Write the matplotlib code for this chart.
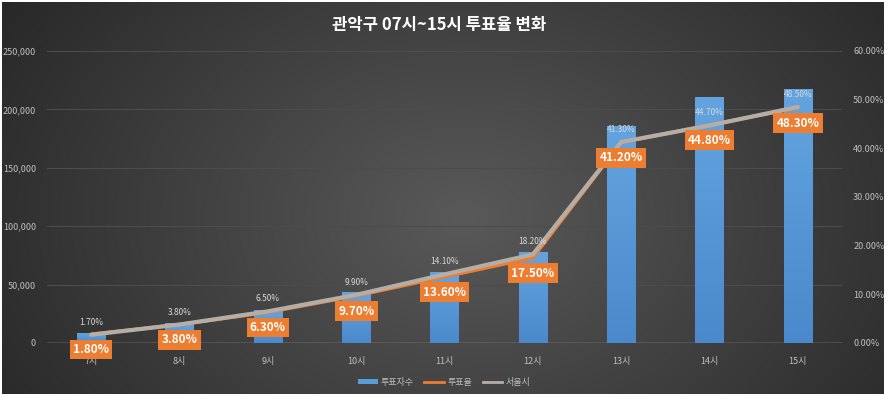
import numpy as np
import matplotlib.pyplot as plt
from matplotlib.patches import Patch
from matplotlib.lines import Line2D
from matplotlib.colors import LinearSegmentedColormap

plt.rcParams['font.family'] = ['Noto Sans CJK KR', 'DejaVu Sans']

# -----------------------------
# DATA
# -----------------------------
hours = ["7시", "8시", "9시", "10시", "11시", "12시", "13시", "14시", "15시"]
voters = [8600, 17000, 28000, 43500, 61000, 78000, 185800, 210500, 217500]
rate_gwanak = [1.8, 3.8, 6.3, 9.7, 13.6, 17.5, 41.2, 44.8, 48.3]
rate_seoul = [1.7, 3.8, 6.5, 9.9, 14.1, 18.2, 41.3, 44.7, 48.5]

title = "관악구 07시~15시 투표율 변화"

# -----------------------------
# STYLE
# -----------------------------
blue = "#5b9bd5"
orange = "#ed7d31"
grey_line = "#b5aea6"
tick_col = "#bfbfbf"

W, H = 888, 398
fig = plt.figure(figsize=(W / 100, H / 100), dpi=100, facecolor="white")

# dark radial background
bg = fig.add_axes([2 / W, 4 / H, 882 / W, 392 / H])
yy, xx = np.mgrid[0:200, 0:450]
r = np.sqrt(((xx - 235) / 260.0) ** 2 + ((yy - 110) / 190.0) ** 2)
val = np.clip(0.35 - 0.18 * r, 0.16, 0.35)
bg.imshow(np.dstack([val, val, val]), aspect="auto", extent=[0, 1, 0, 1], interpolation="bilinear")
bg.set_axis_off()

ax = fig.add_axes([47 / W, 1 - 343 / H, 795 / W, 292 / H])
ax.set_facecolor("none")
x = np.arange(len(hours))

bars = ax.bar(x, voters, width=0.32, color=blue, zorder=2)
# vertical gradient inside each bar
grad = np.linspace(0, 1, 100).reshape(-1, 1)
bar_cmap = LinearSegmentedColormap.from_list("bar", ["#4a89cb", "#63a4e0"])
for b in bars:
    x0, y0 = b.get_x(), b.get_y()
    im = ax.imshow(grad, cmap=bar_cmap, aspect="auto",
                   extent=[x0, x0 + b.get_width(), y0, y0 + b.get_height()],
                   origin="lower", zorder=2.1)
    im.set_clip_path(b)

ax.set_xlim(-0.5, len(hours) - 0.5)
ax.set_ylim(0, 250000)
ax.set_yticks(np.arange(0, 250001, 50000))
ax.set_yticklabels([f"{v:,}" for v in range(0, 250001, 50000)])
ax.set_xticks(x)
ax.set_xticklabels(hours)
ax.grid(axis="y", color="#4c4c4c", lw=0.8, zorder=0)
ax.set_axisbelow(True)
for s in ax.spines.values():
    s.set_visible(False)
ax.axhline(0, color="#a6a6a6", lw=1, zorder=1)
ax.tick_params(length=0, colors=tick_col, labelsize=6.5, pad=10)
ax.tick_params(axis="y", pad=8)

ax2 = ax.twinx()
ax2.set_ylim(0, 60)
ax2.set_yticks(np.arange(0, 61, 10))
ax2.set_yticklabels([f"{v:.2f}%" for v in range(0, 61, 10)])
for s in ax2.spines.values():
    s.set_visible(False)
ax2.tick_params(length=0, colors=tick_col, labelsize=6.5, pad=8)

ax2.plot(x, rate_gwanak, color=orange, lw=2.5, zorder=3, solid_capstyle="round")
ax2.plot(x, rate_seoul, color=grey_line, lw=3, zorder=4, solid_capstyle="round")

for xi, v in zip(x, rate_seoul):
    ax2.annotate(f"{v:.2f}%", (xi, v), xytext=(0, 9), textcoords="offset points",
                 ha="center", va="center", fontsize=6, color="#d9d9d9", zorder=5)
for xi, v in zip(x, rate_gwanak):
    ax2.annotate(f"{v:.2f}%", (xi, v), xytext=(0, -11), textcoords="offset points",
                 ha="center", va="center", fontsize=8.5, fontweight="bold", color="white",
                 bbox=dict(boxstyle="square,pad=0.28", fc=orange, ec="none"), zorder=6)

fig.text(0.495, 1 - 25 / H, title, ha="center", va="center", color="white",
         fontsize=12, fontweight="bold")

handles = [Patch(facecolor=blue, edgecolor="none"),
           Line2D([0], [0], color=orange, lw=2),
           Line2D([0], [0], color=grey_line, lw=2)]
leg = fig.legend(handles, ["투표자수", "투표율", "서울시"], loc="center",
                 bbox_to_anchor=(0.5, 1 - 382 / H), ncol=3, frameon=False,
                 fontsize=6.5, labelcolor=tick_col, handlelength=2.2,
                 handleheight=0.5, handletextpad=0.3, columnspacing=1.2)

fig.savefig("out.png", dpi=100, facecolor="white")
